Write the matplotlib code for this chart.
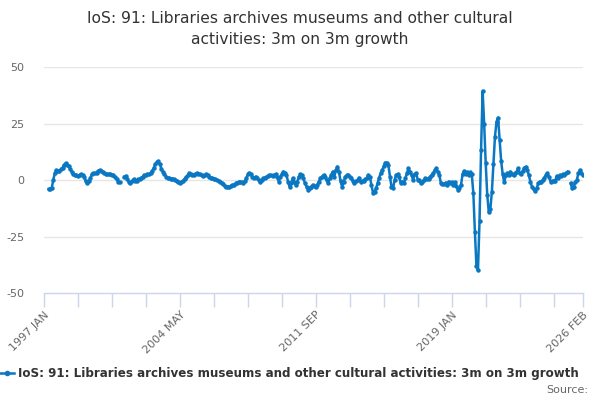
import numpy as np
import matplotlib
matplotlib.use('Agg')
import matplotlib.pyplot as plt

# monthly series, 1997 JAN .. 2026 FEB (NaN = no value shown)
nan = np.nan
growth = [
    nan, nan, nan, -4.0, -4.0, -3.5, 0.0, 3.0, 4.4, 4.0,
    4.0, 4.7, 5.5, 6.6, 7.4, 6.8, 6.0, 4.8, 3.7, 2.8,
    2.2, 2.0, 1.8, 2.2, 2.6, 2.0, 1.5, -0.5, -1.5, -0.5,
    0.7, 2.5, 3.0, 3.0, 3.2, 4.0, 4.4, 4.2, 3.7, 3.0,
    2.6, 2.5, 2.6, 2.5, 2.4, 2.0, 1.5, 0.5, -0.7, -1.0,
    nan, nan, 1.5, 1.8, 0.5, -1.0, -1.5, -0.5, 0.3, -0.5,
    -0.3, 0.3, 0.3, 1.0, 1.5, 2.0, 2.2, 2.5, 2.6, 3.0,
    4.0, 5.2, 7.0, 7.8, 8.2, 7.0, 5.0, 3.7, 2.5, 1.5,
    1.0, 0.7, 0.6, 0.5, 0.4, 0.0, -0.3, -1.0, -1.5, -1.0,
    -0.3, 0.5, 1.2, 2.0, 3.0, 2.8, 2.2, 2.2, 2.6, 3.0,
    2.8, 2.6, 2.0, 1.8, 2.2, 2.6, 2.0, 1.2, 1.0, 0.7,
    0.5, 0.3, 0.0, -0.3, -0.7, -1.2, -1.8, -2.6, -3.2, -3.0,
    -2.9, -2.6, -2.2, -2.0, -1.5, -1.2, -0.8, -0.7, -1.0, -1.5,
    -0.5, 0.7, 2.5, 3.2, 2.6, 1.5, 0.7, 1.5, 1.0, 0.0,
    -0.7, 0.0, 0.7, 1.0, 1.2, 1.8, 2.2, 2.0, 1.8, 2.2,
    2.6, 1.5, -0.7, 1.5, 2.5, 3.7, 3.2, 2.2, -0.7, -3.0,
    -1.5, 0.7, -0.7, -2.2, -0.7, 1.5, 2.6, 2.0, 0.7, -1.5,
    -3.0, -4.4, -3.7, -3.0, -2.2, -2.5, -3.2, -2.0, -0.7, 0.7,
    1.5, 2.2, 1.5, 0.0, -1.5, 0.7, 2.2, 3.7, 1.5, 4.4,
    5.9, 3.7, -0.5, -3.0, -1.0, 1.5, 2.0, 2.2, 1.5, 0.7,
    -0.5, -1.5, -0.5, 0.0, 1.0, -0.7, -0.5, -0.3, 0.3, 0.7,
    2.2, 1.5, -2.2, -5.6, -5.2, -3.7, -1.5, 1.0, 3.0, 4.4,
    6.0, 7.7, 7.7, 6.6, 1.5, -3.0, -3.7, 0.0, 2.2, 2.6,
    1.5, -1.5, -0.7, -1.5, 0.7, 3.0, 5.2, 3.7, 2.2, 0.0,
    2.6, 3.0, 0.0, 0.0, -1.5, -0.7, 0.0, 0.7, 0.3, 0.5,
    1.5, 2.2, 3.0, 4.4, 5.2, 3.7, 2.2, -1.5, -1.9, -1.9,
    -1.2, -2.2, -0.7, -1.5, -1.0, -2.2, -1.0, -2.5, -4.4, -3.5,
    -2.2, 2.5, 4.0, 2.8, 3.4, 2.2, 3.4, 2.5, -5.9, -22.9,
    -38.0, -40.0, -18.0, 13.3, 39.4, 25.0, 7.4, -6.6, -14.3, -12.8,
    -5.2, 6.9, 19.2, 25.8, 27.6, 17.7, 8.4, 2.5, -1.0, 2.0,
    2.9, 2.2, 3.7, 2.5, 2.2, 3.0, 3.7, 5.2, 3.2, 2.6,
    4.1, 5.2, 5.9, 4.4, 2.0, -1.0, -3.0, -4.0, -4.7, -3.7,
    -1.5, -0.7, -0.7, 0.0, 1.0, 2.2, 3.0, 1.5, -0.7, -0.5,
    -0.3, -0.3, 1.8, 0.7, 2.2, 1.8, 2.6, 2.2, 3.0, 3.7,
    nan, -1.5, -3.7, -3.0, -1.0, 0.0, 3.0, 4.4, 3.0, 2.2,
]

months = ['JAN', 'FEB', 'MAR', 'APR', 'MAY', 'JUN',
          'JUL', 'AUG', 'SEP', 'OCT', 'NOV', 'DEC']
labels = [f'{1997 + i // 12} {months[i % 12]}' for i in range(len(growth))]

label_pos = [0, 88, 176, 264, 349]
minor_pos = list(range(0, 331, 22)) + [349]
y_ticks = [-50, -25, 0, 25, 50]

title = 'IoS: 91: Libraries archives museums and other cultural\nactivities: 3m on 3m growth'
series_name = 'IoS: 91: Libraries archives museums and other cultural activities: 3m on 3m growth'

blue = '#0a77c2'
grey = '#666666'
axis_col = '#ccd6eb'

fig = plt.figure(figsize=(6, 4), dpi=100)
ax = fig.add_axes([44 / 600, 1 - 293 / 400, (583 - 44) / 600, (293 - 67) / 400])

x = np.arange(len(growth))
ax.plot(x, growth, color=blue, lw=1.8, marker='o', ms=2.2, zorder=3)

ax.set_xlim(0, len(growth) - 1)
ax.set_ylim(-50, 50)
ax.set_yticks(y_ticks)
ax.set_yticklabels([str(v) for v in y_ticks], color=grey, fontsize=8)
ax.tick_params(axis='y', length=0, pad=14)
for v in y_ticks[1:]:
    ax.axhline(v, color='#e6e6e6', lw=1, zorder=1)

ax.set_xticks(minor_pos, minor=True)
ax.set_xticks(label_pos)
ax.set_xticklabels([labels[i] for i in label_pos], rotation=45, ha='right',
                   rotation_mode='anchor', color=grey, fontsize=8)
ax.tick_params(axis='x', which='both', length=10, color=axis_col, width=1, pad=2)

for s in ['top', 'right', 'left']:
    ax.spines[s].set_visible(False)
ax.spines['bottom'].set_color(axis_col)
ax.spines['bottom'].set_linewidth(1)

fig.text(0.5, 1 - 29 / 400, title, ha='center', va='center', fontsize=11.2,
         color='#333333', linespacing=1.45)

# legend row
fig.add_artist(plt.Line2D([0 / 600, 14 / 600], [1 - 373 / 400] * 2, color=blue, lw=1.8,
                          transform=fig.transFigure))
fig.add_artist(plt.Line2D([7 / 600], [1 - 373 / 400], color=blue, marker='o', ms=3,
                          transform=fig.transFigure))
fig.text(18 / 600, 1 - 373 / 400, series_name, ha='left', va='center',
         fontsize=8.6, fontweight='bold', color='#333333')
fig.text(588 / 600, 1 - 390 / 400, 'Source:', ha='right', va='center',
         fontsize=8, color=grey)

fig.savefig('out.png', dpi=100)
